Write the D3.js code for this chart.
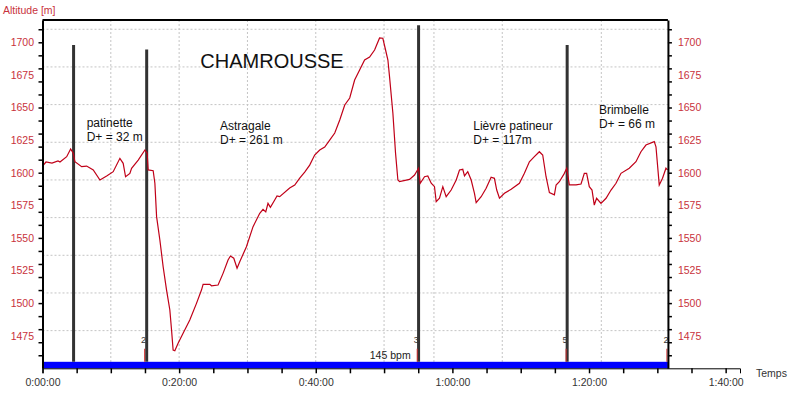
<!DOCTYPE html>
<html>
<head>
<meta charset="utf-8">
<script src="https://cdn.jsdelivr.net/npm/d3@7"></script>
<style>
  body { margin: 0; background: #fff; }
  text { font-family: "Liberation Sans", Arial, sans-serif; }
</style>
</head>
<body>
<script>
// profile: time in minutes, altitude in m
const minutes = [0, 0.51, 1.39, 2.27, 2.56, 3.54, 4.12, 4.5, 4.75, 5.73, 6.46, 7.43, 8.41, 9.39, 10.35, 11.33, 11.81, 12.16, 12.79, 13.04, 14.01, 14.99, 15.32, 15.47, 16.2, 16.45, 16.7, 17.18, 17.66, 18.16, 18.64, 18.89, 19.12, 19.37, 19.85, 20.58, 21.56, 22.54, 23.27, 23.51, 24.49, 24.74, 25.7, 26.43, 27.16, 27.51, 28.0, 28.48, 28.87, 29.85, 30.82, 31.8, 32.28, 32.68, 33.01, 33.36, 33.99, 34.33, 34.72, 36.18, 36.92, 37.65, 38.38, 39.11, 39.84, 40.58, 41.31, 42.04, 42.78, 43.51, 44.24, 44.97, 45.69, 46.42, 47.15, 47.88, 48.61, 49.34, 49.82, 50.22, 50.56, 50.8, 51.29, 51.68, 52.02, 52.27, 53.73, 54.46, 55.04, 55.29, 55.92, 56.4, 56.9, 57.38, 57.63, 58.11, 58.6, 59.09, 59.82, 60.56, 61.04, 61.52, 61.77, 62.25, 62.75, 63.23, 63.48, 64.21, 64.94, 65.67, 66.15, 66.49, 66.89, 67.62, 68.6, 69.81, 70.54, 71.27, 72.0, 72.73, 73.22, 73.71, 74.2, 74.93, 75.18, 75.66, 76.39, 76.73, 77.12, 78.1, 78.83, 79.31, 79.65, 80.04, 80.44, 80.77, 81.11, 81.75, 82.49, 83.22, 83.95, 84.68, 85.89, 86.87, 87.6, 88.33, 89.55, 89.8, 90.28, 90.76, 91.26, 91.49]
const altitude = [1605.1, 1608.2, 1607.4, 1609.0, 1608.2, 1612.3, 1618.2, 1614.9, 1608.4, 1604.6, 1605.1, 1602.1, 1594.4, 1597.5, 1600.8, 1611.0, 1607.2, 1596.9, 1599.5, 1603.4, 1609.7, 1617.4, 1614.9, 1602.1, 1601.5, 1591.9, 1566.3, 1548.4, 1527.9, 1510.0, 1494.7, 1479.4, 1464.0, 1463.5, 1469.2, 1476.8, 1487.0, 1499.8, 1510.0, 1514.4, 1514.4, 1513.3, 1513.9, 1522.8, 1533.1, 1536.1, 1534.4, 1526.7, 1531.7, 1543.2, 1558.6, 1568.9, 1571.9, 1569.9, 1576.5, 1573.5, 1579.1, 1582.1, 1581.6, 1588.2, 1590.5, 1595.9, 1600.5, 1605.8, 1613.5, 1617.4, 1619.7, 1625.0, 1630.4, 1640.4, 1651.9, 1657.3, 1671.1, 1678.8, 1686.4, 1688.7, 1694.1, 1703.3, 1703.1, 1694.1, 1686.4, 1673.6, 1645.6, 1614.9, 1594.4, 1593.1, 1594.9, 1598.2, 1603.4, 1591.9, 1596.9, 1597.5, 1591.9, 1589.3, 1577.8, 1580.4, 1589.3, 1581.6, 1586.7, 1594.4, 1602.1, 1602.6, 1597.5, 1600.8, 1594.4, 1584.2, 1577.0, 1581.6, 1588.0, 1596.5, 1595.7, 1586.7, 1580.4, 1584.2, 1587.3, 1591.9, 1599.5, 1608.4, 1612.3, 1616.1, 1613.6, 1596.9, 1584.7, 1583.0, 1590.6, 1593.1, 1599.5, 1603.4, 1590.6, 1590.6, 1591.3, 1599.5, 1599.5, 1589.3, 1586.7, 1575.2, 1580.4, 1576.5, 1580.4, 1586.7, 1591.9, 1599.5, 1603.4, 1608.4, 1616.1, 1621.2, 1623.8, 1619.9, 1590.6, 1595.7, 1603.4, 1602.1]

const lapTimes = [4.55, 15.25, 55.05, 76.8]
const lapTops = [1698, 1694.5, 1713, 1698]
const markerTimes = [14.95, 54.85, 76.65, 91.4]
const markerNums = ["2", "3", "5", "2"]

const sectionNames = ["patinette", "Astragale", "Lièvre patineur", "Brimbelle"]
const sectionGains = ["D+ = 32 m", "D+ = 261 m", "D+ = 117m", "D+ = 66 m"]
const sectionTimes = [6.47, 25.98, 63.06, 81.45]
const sectionAlts = [1635.3, 1632.7, 1632.7, 1645.0]

const avgHr = 145
const endTime = 91.55
const gridTimes = [10, 20, 30, 40, 50, 57.3, 67.3, 81.8]
const altTicks = d3.range(1460, 1711, 10)
const altLabels = [1475, 1500, 1525, 1550, 1575, 1600, 1625, 1650, 1675, 1700]
const timeTicks = d3.range(0, 101, 5)

const labelRed = "#c8323c"
const x = d3.scaleLinear().domain([0, 102.1]).range([42.5, 740])
const y = d3.scaleLinear().domain([1450, 1717.1]).range([368.3, 20])
const plotL = x(0), plotR = x(endTime), plotT = y.range()[1], plotB = y.range()[0]

const svg = d3.select("body").append("svg").attr("width", 800).attr("height", 394)

// grid
const gridAlts = d3.range(1, 10).map(k => 1450 + k * 260 / 9)
svg.append("g").selectAll("line").data(gridAlts).enter().append("line")
  .attr("x1", plotL).attr("x2", plotR).attr("y1", d => y(d)).attr("y2", d => y(d))
  .attr("stroke", "#c4c4c4").attr("stroke-dasharray", "2,2")
svg.append("g").selectAll("line").data(gridTimes).enter().append("line")
  .attr("x1", d => x(d)).attr("x2", d => x(d)).attr("y1", plotT).attr("y2", plotB)
  .attr("stroke", "#c4c4c4").attr("stroke-dasharray", "2,2")

// heart rate band
svg.append("rect").attr("x", plotL).attr("y", plotB - 6.5).attr("width", plotR - plotL).attr("height", 6.5).attr("fill", "#0000ff")
svg.append("text").attr("x", x(50.9)).attr("y", 359).attr("text-anchor", "middle").attr("font-size", "10.5px").attr("fill", "#222").text(avgHr + " bpm")

// laps
svg.append("g").selectAll("line").data(lapTimes).enter().append("line")
  .attr("x1", d => x(d)).attr("x2", d => x(d)).attr("y1", (d, i) => y(lapTops[i])).attr("y2", plotB - 6.5)
  .attr("stroke", "#333").attr("stroke-width", 3)
svg.append("g").selectAll("line").data(markerTimes).enter().append("line")
  .attr("x1", d => x(d)).attr("x2", d => x(d)).attr("y1", y(1465)).attr("y2", plotB - 6.5)
  .attr("stroke", "#d03030").attr("stroke-width", 1)
svg.append("g").selectAll("text").data(markerTimes).enter().append("text")
  .attr("x", d => x(d) + 1.5).attr("y", 343).attr("text-anchor", "end").attr("font-size", "9px").attr("fill", "#333")
  .text((d, i) => markerNums[i])

// profile
const line = d3.line().x(d => x(d[0])).y(d => y(d[1]))
svg.append("path").datum(minutes.map((m, i) => [m, altitude[i]]))
  .attr("d", line).attr("fill", "none").attr("stroke", "#c00018").attr("stroke-width", 1.2)

// frame
svg.append("line").attr("x1", plotL).attr("x2", plotR).attr("y1", plotT).attr("y2", plotT).attr("stroke", "#000").attr("stroke-width", 2)

const yTicksL = svg.append("g").attr("transform", `translate(${plotL},0)`)
  .call(d3.axisLeft(y).tickValues(altTicks).tickSize(4).tickSizeOuter(0).tickFormat(""))
const yTicksR = svg.append("g").attr("transform", `translate(${plotR},0)`)
  .call(d3.axisRight(y).tickValues(altTicks).tickSize(4).tickSizeOuter(0).tickFormat(""))
;[yTicksL, yTicksR].forEach(g => {
  g.select(".domain").attr("stroke-width", 2)
  g.selectAll(".tick line").attr("stroke-width", 1.5)
})
svg.append("g").selectAll("text").data(altLabels).enter().append("text")
  .attr("x", plotL - 8.5).attr("y", d => y(d) + 4).attr("text-anchor", "end")
  .attr("font-size", "10.5px").attr("fill", labelRed).text(d => d)
svg.append("g").selectAll("text").data(altLabels).enter().append("text")
  .attr("x", plotR + 10).attr("y", d => y(d) + 4)
  .attr("font-size", "10.5px").attr("fill", labelRed).text(d => d)

const fmt = m => Math.floor(m / 60) + ":" + String(m % 60).padStart(2, "0") + ":00"
const xAxis = svg.append("g").attr("transform", `translate(0,${plotB})`)
  .call(d3.axisBottom(x).tickValues(timeTicks).tickSize(5).tickSizeOuter(5).tickFormat(d => d % 20 === 0 ? fmt(d) : ""))
xAxis.selectAll(".tick line").attr("stroke-width", 1.5)
xAxis.selectAll(".tick text").attr("font-size", "10.5px").attr("fill", "#333").attr("dy", "0.95em")
xAxis.attr("font-family", null)

svg.append("text").attr("x", 3).attr("y", 14).attr("font-size", "10.5px").attr("fill", labelRed).text("Altitude [m]")
svg.append("text").attr("x", 756).attr("y", 377).attr("font-size", "10.5px").attr("fill", "#333").text("Temps")

// annotations
svg.append("text").attr("x", x(23.1)).attr("y", y(1680.3)).attr("font-size", "20px").attr("fill", "#111").text("CHAMROUSSE")
sectionNames.forEach((n, i) => {
  const t = svg.append("text").attr("font-size", "12px").attr("fill", "#111")
  t.append("tspan").attr("x", x(sectionTimes[i])).attr("y", y(sectionAlts[i])).text(n)
  t.append("tspan").attr("x", x(sectionTimes[i])).attr("dy", 14).text(sectionGains[i])
})
</script>
</body>
</html>
